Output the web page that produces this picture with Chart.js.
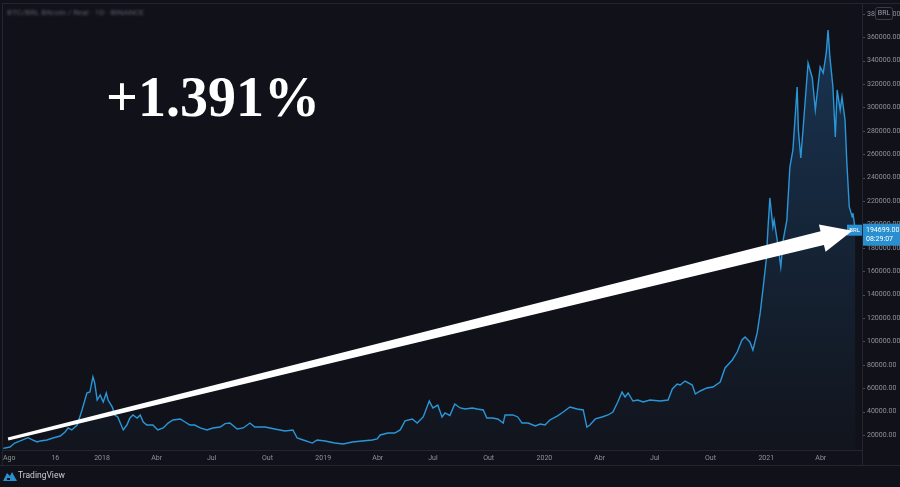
<!DOCTYPE html>
<html>
<head>
<meta charset="utf-8">
<script src="https://cdn.jsdelivr.net/npm/chart.js@4.4.1/dist/chart.umd.min.js"></script>
<style>
  html, body { margin: 0; padding: 0; background: #111219; }
  canvas { display: block; }
</style>
</head>
<body>
<canvas id="chart" width="900" height="487"></canvas>
<script>
// days counted from 1 Jan 2018
const dayOffsets = [
  -163, -152, -144, -135, -122, -114, -107, -102, -91, -81,
  -69, -61, -56, -50, -41, -33, -25, -20, -15, -12,
  -8, -3, 2, 7, 10, 17, 21, 26, 35, 41,
  46, 51, 58, 63, 68, 74, 84, 92, 101, 109,
  117, 129, 137, 145, 153, 162, 173, 183, 195, 203,
  211, 223, 233, 244, 252, 269, 285, 302, 315, 322,
  332, 347, 355, 368, 384, 398, 413, 429, 446, 454,
  459, 472, 483, 492, 500, 512, 520, 530, 540, 546,
  554, 561, 566, 574, 582, 591, 599, 611, 619, 629,
  635, 644, 653, 662, 665, 678, 686, 693, 703, 715,
  723, 731, 739, 751, 761, 772, 784, 794, 800, 805,
  814, 825, 835, 843, 851, 858, 863, 868, 876, 884,
  893, 904, 921, 934, 941, 949, 954, 962, 974, 979,
  987, 998, 1008, 1020, 1028, 1040, 1048, 1056, 1061, 1069,
  1074, 1081, 1086, 1091, 1096, 1099, 1102, 1107, 1109, 1114,
  1117, 1120, 1124, 1130, 1135, 1140, 1147, 1149, 1153, 1157,
  1162, 1165, 1172, 1177, 1182, 1185, 1190, 1195, 1198, 1201,
  1206, 1210, 1213, 1218, 1221, 1226, 1229, 1233, 1238, 1239,
  1243
];
const prices = [
  8700, 9800, 13200, 15000, 17800, 15800, 14100, 15000, 15800, 17500,
  19200, 22600, 26100, 24400, 28600, 41500, 56000, 56800, 69700, 64500,
  50000, 54300, 48300, 56000, 50000, 44000, 37200, 35500, 24400, 28600,
  34600, 37200, 34600, 37200, 31200, 28600, 28600, 24400, 26100, 30300,
  32900, 33800, 31200, 28600, 28600, 26100, 24400, 26100, 26900, 29800,
  30300, 25200, 26100, 30300, 26900, 26900, 25200, 23500, 24400, 17500,
  15800, 13200, 15800, 15000, 13200, 12400, 14100, 15000, 15800, 16700,
  20100, 21800, 21800, 24400, 32100, 33800, 30300, 35500, 49100, 43200,
  45700, 35500, 38900, 36800, 46600, 43200, 42300, 43200, 42300, 41500,
  34600, 34600, 33800, 30300, 37200, 37200, 35500, 30300, 30300, 27800,
  29500, 28600, 32900, 36300, 39700, 44000, 42300, 41500, 26900, 28600,
  33800, 35500, 37200, 39700, 48300, 56800, 52600, 56000, 49100, 50000,
  48300, 50000, 49100, 50000, 59400, 63700, 62800, 66200, 62800, 55100,
  57700, 60300, 61100, 65400, 77400, 84200, 91000, 101300, 103800, 99600,
  92700, 107300, 124400, 146600, 169700, 197900, 222700, 197900, 203800, 186800,
  175600, 163700, 186800, 203800, 249100, 263700, 317500, 280800, 256800, 283300,
  317500, 338000, 325200, 297900, 320900, 334600, 329500, 346600, 366200, 343200,
  317500, 274800, 315000, 297900, 309000, 289300, 252600, 215000, 206400, 209800,
  194699
];

const tickDays = [-153, -77, 0, 90, 181, 273, 365, 455, 546, 638, 730, 821, 912, 1004, 1096, 1186];
const tickLabels = ['Ago', '16', '2018', 'Abr', 'Jul', 'Out', '2019', 'Abr', 'Jul', 'Out', '2020', 'Abr', 'Jul', 'Out', '2021', 'Abr'];
const priceTicks = [20000, 40000, 60000, 80000, 100000, 120000, 140000, 160000, 180000, 200000,
  220000, 240000, 260000, 280000, 300000, 320000, 340000, 360000, 380000];

const headline = '+1.391%';
const lastTime = '08:29:07';
const currency = 'BRL';
const title = 'BTC/BRL Bitcoin / Real · 1D · BINANCE';
const arrowStart = { day: -155, price: 16700 };

const bg = '#111219';
const lineColor = '#2a96d8';
const textColor = '#8f929b';
const frameColor = '#23262f';

const points = dayOffsets.map((d, i) => ({ x: d, y: prices[i] }));

const decorations = {
  id: 'decorations',
  beforeDraw(chart) {
    const { ctx, width, height } = chart;
    ctx.save();
    ctx.fillStyle = bg;
    ctx.fillRect(0, 0, width, height);
    ctx.restore();
  },
  afterDraw(chart) {
    const { ctx, chartArea: a, scales: { x, y } } = chart;
    const last = prices[prices.length - 1];
    const yp = y.getPixelForValue(last);
    ctx.save();

    // frame
    ctx.strokeStyle = frameColor;
    ctx.lineWidth = 1;
    ctx.beginPath();
    ctx.moveTo(2.5, a.top); ctx.lineTo(2.5, 465.5);
    ctx.moveTo(2, 3.5); ctx.lineTo(900, 3.5);
    ctx.moveTo(2, a.bottom + 0.5); ctx.lineTo(a.right, a.bottom + 0.5);
    ctx.moveTo(0, 465.5); ctx.lineTo(900, 465.5);
    ctx.moveTo(a.right + 0.5, 3); ctx.lineTo(a.right + 0.5, 466);
    ctx.stroke();

    // little tick marks on the price axis
    ctx.strokeStyle = '#4a4d57';
    ctx.beginPath();
    priceTicks.forEach(v => {
      const py = Math.round(y.getPixelForValue(v)) + 0.5;
      ctx.moveTo(a.right + 1, py); ctx.lineTo(a.right + 3, py);
    });
    ctx.stroke();

    // small tag at line end
    ctx.fillStyle = '#2a8fcf';
    ctx.fillRect(a.right - 15, yp - 6, 15, 11);
    ctx.fillStyle = '#ffffff';
    ctx.font = '6px Roboto';
    ctx.textAlign = 'right';
    ctx.textBaseline = 'middle';
    ctx.fillText(currency, a.right - 2, yp);

    // arrow
    const sx = x.getPixelForValue(arrowStart.day), sy = y.getPixelForValue(arrowStart.price);
    const tx = x.getPixelForValue(dayOffsets[dayOffsets.length - 1]) - 3, ty = yp;
    const len = Math.hypot(tx - sx, ty - sy);
    const ux = (tx - sx) / len, uy = (ty - sy) / len;
    const nx = -uy, ny = ux;
    const headLen = 31, headW = 14, w0 = 1.5, w1 = 7;
    const bx = tx - ux * headLen, by = ty - uy * headLen;
    ctx.fillStyle = '#ffffff';
    ctx.beginPath();
    ctx.moveTo(sx + nx * w0, sy + ny * w0);
    ctx.lineTo(bx + nx * w1, by + ny * w1);
    ctx.lineTo(bx + nx * headW, by + ny * headW);
    ctx.lineTo(tx, ty);
    ctx.lineTo(bx - nx * headW, by - ny * headW);
    ctx.lineTo(bx - nx * w1, by - ny * w1);
    ctx.lineTo(sx - nx * w0, sy - ny * w0);
    ctx.closePath();
    ctx.fill();

    // price box on axis
    ctx.fillStyle = '#2a8fcf';
    ctx.fillRect(a.right + 1, yp - 7, 900 - a.right, 22);
    ctx.fillStyle = '#ffffff';
    ctx.font = '7px Roboto';
    ctx.textAlign = 'left';
    ctx.textBaseline = 'middle';
    ctx.fillText(last.toFixed(2), a.right + 4, yp);
    ctx.fillText(lastTime, a.right + 4, yp + 9);

    // currency badge
    ctx.fillStyle = bg;
    ctx.strokeStyle = '#3a3d47';
    ctx.beginPath();
    ctx.roundRect(875.5, 7.5, 17, 12, 2);
    ctx.fill();
    ctx.stroke();
    ctx.fillStyle = '#9a9da6';
    ctx.textAlign = 'center';
    ctx.fillText(currency, 884, 13.5);

    // headline
    ctx.fillStyle = '#ffffff';
    ctx.font = 'bold 56px "Liberation Serif"';
    ctx.textAlign = 'left';
    ctx.textBaseline = 'alphabetic';
    ctx.fillText(headline, 106, 116);

    // blurred title
    ctx.filter = 'blur(1.3px)';
    ctx.fillStyle = '#5a5d68';
    ctx.font = '8px Roboto';
    ctx.textBaseline = 'middle';
    ctx.fillText(title, 7, 13);
    ctx.filter = 'none';

    // footer logo
    ctx.fillStyle = '#2a8fcf';
    ctx.beginPath();
    ctx.moveTo(3, 481); ctx.lineTo(7, 473); ctx.lineTo(10, 476); ctx.lineTo(12, 472);
    ctx.lineTo(17, 481); ctx.closePath();
    ctx.fill();
    ctx.fillStyle = bg;
    ctx.fillRect(7, 478, 3, 2);
    ctx.fillStyle = '#c9ccd3';
    ctx.font = '8.5px Roboto';
    ctx.textBaseline = 'middle';
    ctx.fillText('TradingView', 18, 476);

    ctx.restore();
  }
};

new Chart(document.getElementById('chart'), {
  type: 'line',
  data: {
    datasets: [{
      data: points,
      borderColor: lineColor,
      borderWidth: 1.4,
      pointRadius: 0,
      tension: 0,
      fill: 'start',
      backgroundColor: (c) => {
        const a = c.chart.chartArea;
        if (!a) return 'rgba(42,150,216,0.15)';
        const g = c.chart.ctx.createLinearGradient(0, a.top, 0, a.bottom);
        g.addColorStop(0, 'rgba(42,130,210,0.32)');
        g.addColorStop(1, 'rgba(42,130,210,0.02)');
        return g;
      }
    }]
  },
  options: {
    responsive: false,
    animation: false,
    events: [],
    layout: { padding: { left: 3, top: 3, right: 0, bottom: 22 } },
    plugins: { legend: { display: false }, tooltip: { enabled: false } },
    scales: {
      x: {
        type: 'linear',
        min: -163.4,
        max: 1254,
        grid: { display: false, drawTicks: false },
        border: { display: false },
        afterBuildTicks: (s) => { s.ticks = tickDays.map(v => ({ value: v })); },
        afterFit: (s) => { s.height = 15; s.paddingLeft = 0; s.paddingRight = 0; },
        ticks: {
          autoSkip: false,
          maxRotation: 0,
          padding: 4,
          color: textColor,
          font: { family: 'Roboto', size: 7 },
          callback: (v, i) => tickLabels[i]
        }
      },
      y: {
        position: 'right',
        min: 7265,
        max: 389300,
        grid: { display: false, drawTicks: false },
        border: { display: false },
        afterBuildTicks: (s) => { s.ticks = priceTicks.map(v => ({ value: v })); },
        afterFit: (s) => { s.width = 38; s.paddingTop = 0; s.paddingBottom = 0; },
        ticks: {
          padding: 5,
          color: textColor,
          font: { family: 'Roboto', size: 7 },
          callback: (v) => v.toFixed(2)
        }
      }
    }
  },
  plugins: [decorations]
});
</script>
</body>
</html>
